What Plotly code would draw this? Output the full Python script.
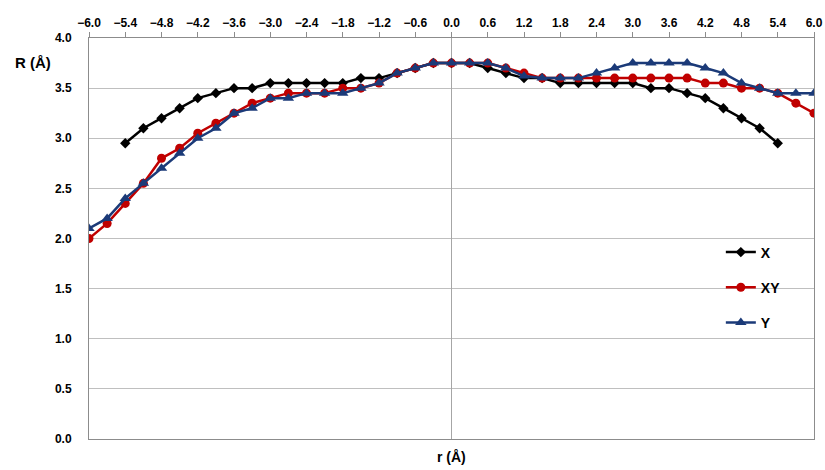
import plotly.graph_objects as go

r_x = [-5.4, -5.1, -4.8, -4.5, -4.2, -3.9, -3.6, -3.3, -3.0, -2.7, -2.4, -2.1, -1.8, -1.5, -1.2, -0.9, -0.6, -0.3,
       0.0, 0.3, 0.6, 0.9, 1.2, 1.5, 1.8, 2.1, 2.4, 2.7, 3.0, 3.3, 3.6, 3.9, 4.2, 4.5, 4.8, 5.1, 5.4]
R_x = [2.95, 3.10, 3.20, 3.30, 3.40, 3.45, 3.50, 3.50, 3.55, 3.55, 3.55, 3.55, 3.55, 3.60, 3.60, 3.65, 3.70, 3.75,
       3.75, 3.75, 3.70, 3.65, 3.60, 3.60, 3.55, 3.55, 3.55, 3.55, 3.55, 3.50, 3.50, 3.45, 3.40, 3.30, 3.20, 3.10, 2.95]

r_full = [-6.0, -5.7, -5.4, -5.1, -4.8, -4.5, -4.2, -3.9, -3.6, -3.3, -3.0, -2.7, -2.4, -2.1, -1.8, -1.5, -1.2, -0.9,
          -0.6, -0.3, 0.0, 0.3, 0.6, 0.9, 1.2, 1.5, 1.8, 2.1, 2.4, 2.7, 3.0, 3.3, 3.6, 3.9, 4.2, 4.5, 4.8, 5.1,
          5.4, 5.7, 6.0]
R_xy = [2.00, 2.15, 2.35, 2.55, 2.80, 2.90, 3.05, 3.15, 3.25, 3.35, 3.40, 3.45, 3.45, 3.45, 3.50, 3.50, 3.55, 3.65,
        3.70, 3.75, 3.75, 3.75, 3.75, 3.70, 3.65, 3.60, 3.60, 3.60, 3.60, 3.60, 3.60, 3.60, 3.60, 3.60, 3.55, 3.55,
        3.50, 3.50, 3.45, 3.35, 3.25]
R_y = [2.10, 2.20, 2.40, 2.55, 2.70, 2.85, 3.00, 3.10, 3.25, 3.30, 3.40, 3.40, 3.45, 3.45, 3.45, 3.50, 3.55, 3.65,
       3.70, 3.75, 3.75, 3.75, 3.75, 3.70, 3.62, 3.60, 3.60, 3.60, 3.65, 3.70, 3.75, 3.75, 3.75, 3.75, 3.70, 3.65,
       3.55, 3.50, 3.45, 3.45, 3.45]

x_ticks = [-6.0, -5.4, -4.8, -4.2, -3.6, -3.0, -2.4, -1.8, -1.2, -0.6, 0.0, 0.6, 1.2, 1.8, 2.4, 3.0, 3.6, 4.2,
           4.8, 5.4, 6.0]
y_ticks = [0.0, 0.5, 1.0, 1.5, 2.0, 2.5, 3.0, 3.5, 4.0]

FONT = "Liberation Sans"
BLACK = "#000000"
RED = "#C00000"
BLUE = "#1B3A78"

fig = go.Figure()
fig.add_trace(go.Scatter(x=r_x, y=R_x, name="X", mode="lines+markers", legendgroup="a",
                         line=dict(color=BLACK, width=2.5),
                         marker=dict(symbol="diamond", size=8, color=BLACK)))
fig.add_trace(go.Scatter(x=r_full, y=R_xy, name="XY", mode="lines+markers", legendgroup="b",
                         line=dict(color=RED, width=2.5),
                         marker=dict(symbol="circle", size=9, color=RED)))
fig.add_trace(go.Scatter(x=r_full, y=R_y, name="Y", mode="lines+markers", legendgroup="c",
                         line=dict(color=BLUE, width=2.5),
                         marker=dict(symbol="triangle-up", size=10, color=BLUE)))

fig.update_layout(
    width=825, height=470,
    margin=dict(l=89, r=11, t=38, b=31, autoexpand=False),
    paper_bgcolor="white", plot_bgcolor="white",
    font=dict(family=FONT, size=11, color="black"),
    legend=dict(x=0.8715, y=0.505, xanchor="left", yanchor="top",
                traceorder="grouped", tracegroupgap=14, itemwidth=30,
                bgcolor="rgba(0,0,0,0)",
                font=dict(family=FONT, size=14, weight="bold")),
    xaxis=dict(range=[-6, 6], side="top", tickvals=x_ticks, tickformat=".1f",
               showgrid=False, zeroline=True, zerolinecolor="#A6A6A6", zerolinewidth=1,
               showline=True, linecolor="#8C8C8C", linewidth=1, mirror=True,
               ticks="outside", ticklen=5, tickcolor="#8C8C8C",
               tickfont=dict(family=FONT, size=12, weight="bold")),
    yaxis=dict(range=[0, 4], tickvals=y_ticks, tickformat=".1f",
               showgrid=True, gridcolor="#BFBFBF", gridwidth=1, zeroline=False,
               showline=True, linecolor="#8C8C8C", linewidth=1, mirror=True,
               ticks="", ticklabelstandoff=14,
               tickfont=dict(family=FONT, size=12, weight="bold")),
    annotations=[
        dict(text="R (Å)", xref="paper", yref="paper", x=-0.105, y=0.94, xanchor="left", yanchor="middle",
             showarrow=False, font=dict(family=FONT, size=15, weight="bold")),
        dict(text="r (Å)", xref="x", yref="paper", x=0, y=-0.02, xanchor="center", yanchor="top",
             showarrow=False, font=dict(family=FONT, size=14, weight="bold")),
    ],
)

fig.write_html("out.html", config={"displayModeBar": False},
               post_script="document.body.style.margin='0px';")
